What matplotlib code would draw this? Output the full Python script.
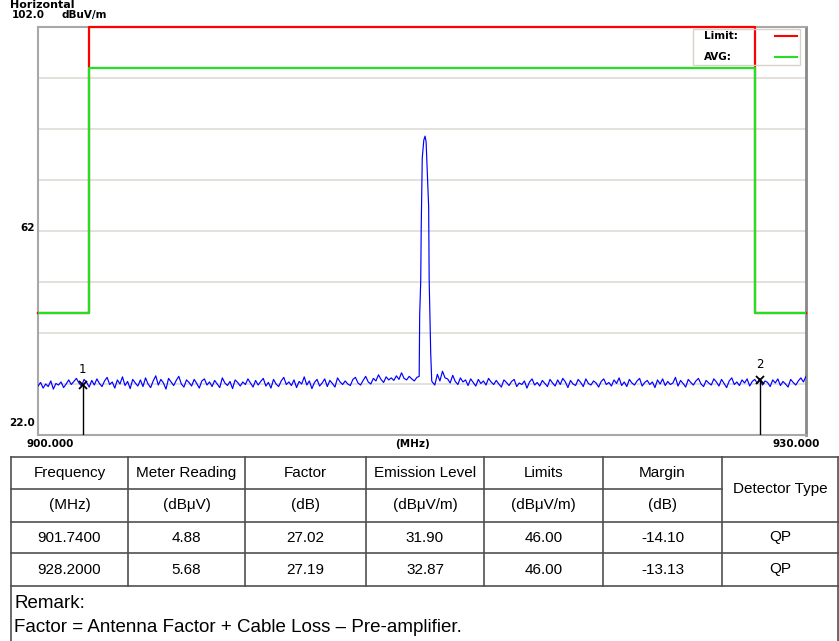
import numpy as np
import matplotlib
matplotlib.use("Agg")
import matplotlib.pyplot as plt

# ==========================================================
# Data
# ==========================================================

F_START = 900.0
F_STOP = 930.0

# noise floor of the sweep, 0.1 MHz steps (dBuV/m)
noise_db = [
    31.6, 32.3, 31.2, 32.0, 31.5, 32.6, 31.0, 32.1, 31.8, 32.4, 31.3, 32.0, 32.8, 31.9, 32.5, 33.1, 32.2, 31.6, 32.9, 32.3,
    31.4, 32.7, 31.8, 33.0, 32.1, 31.5, 32.6, 33.3, 31.9, 32.4, 31.2, 32.8, 32.0, 33.4, 31.7, 32.5, 31.1, 32.9, 32.2, 31.6,
    32.8, 31.5, 33.2, 32.0, 31.3, 32.6, 33.6, 31.8, 32.9, 32.2, 31.0, 33.1, 32.4, 31.7, 32.7, 33.5, 32.0, 31.4, 32.8, 32.3,
    31.6, 32.9, 32.1, 31.2, 32.6, 33.0, 31.8, 32.4, 31.5, 32.7, 32.0, 31.3, 33.2, 32.2, 31.7, 32.5, 31.1, 32.8, 32.3, 31.6,
    32.4, 31.9, 33.0, 32.2, 31.4, 32.7, 31.8, 32.5, 33.1, 31.6, 32.3, 31.2, 32.9, 32.0, 31.5, 32.6, 33.3, 31.9, 32.4, 31.7,
    32.8, 31.3, 32.5, 32.0, 33.4, 31.8, 32.6, 31.1, 32.3, 32.9, 31.6, 32.2, 33.0, 31.5, 32.7, 32.1, 31.4, 33.2, 32.4, 31.9,
    32.6, 32.0, 31.7, 32.9, 33.3, 32.2, 31.8, 32.7, 33.5, 32.4, 32.0, 33.1, 32.6, 33.8, 32.9, 32.3, 33.4, 32.8, 33.2, 32.7,
    33.6, 32.9, 34.2, 33.1, 32.8, 33.5, 33.0, 32.6, 33.3, 33.0, 33.0, 33.0, 33.0, 33.0, 32.4, 31.8, 33.9, 32.6, 34.5, 33.2,
    33.0, 32.2, 33.7, 32.5, 31.9, 33.2, 32.4, 32.8, 31.7, 33.0, 32.3, 31.6, 32.9, 32.1, 32.6, 31.8, 33.1, 32.4, 31.9, 32.7,
    32.0, 31.4, 32.8, 32.3, 31.7, 32.5, 32.9, 31.5, 32.2, 31.9, 32.6, 31.2, 32.4, 33.0, 31.8, 32.3, 31.6, 32.7, 32.1, 31.5,
    32.9, 32.2, 31.6, 32.8, 31.9, 33.1, 32.4, 31.3, 32.7, 32.0, 31.7, 32.9, 32.3, 31.5, 33.0, 32.1, 31.8, 32.6, 32.2, 31.4,
    32.5, 33.0, 31.9, 32.3, 31.6, 32.8, 32.1, 33.2, 31.7, 32.4, 31.5, 32.9, 32.2, 31.8, 32.6, 33.1, 31.6, 32.3, 32.7, 31.9,
    32.4, 31.3, 32.8, 32.0, 33.0, 31.7, 32.5, 31.9, 32.2, 33.3, 31.6, 32.7, 32.1, 31.4, 32.9, 32.3, 31.8, 32.6, 33.1, 32.0,
    31.5, 32.7, 32.2, 31.8, 33.0, 32.4, 31.6, 32.9, 32.1, 31.3, 32.6, 33.2, 31.9, 32.4, 31.7, 32.8, 32.2, 33.0, 31.6, 32.5,
    32.9, 32.1, 33.1, 31.8, 32.6, 32.3, 31.5, 32.8, 32.2, 33.0, 31.7, 32.5, 32.0, 31.4, 32.9, 32.3, 31.8, 32.6, 33.2, 32.4,
    33.5,
]

# carrier peak around 915 MHz
peak_freq = [914.89, 914.91, 914.95, 914.97, 915.01, 915.07, 915.12,
             915.16, 915.20, 915.26, 915.28, 915.31, 915.34, 915.38]
peak_db = [33.5, 45.7, 52.1, 62.8, 76.3, 79.8, 80.6,
           79.5, 74.2, 66.7, 52.4, 45.5, 38.1, 32.6]

# limit lines
limit_freq = [900.0, 902.0, 902.0, 928.0, 928.0, 930.0]
limit_db = [46.0, 46.0, 114.0, 114.0, 46.0, 46.0]
avg_db = [46.0, 46.0, 94.0, 94.0, 46.0, 46.0]

# markers
marker_no = ["1", "2"]
marker_freq = [901.74, 928.20]
marker_db = [31.90, 32.87]

# result table
header1 = ["Frequency", "Meter Reading", "Factor", "Emission Level", "Limits", "Margin"]
header2 = ["(MHz)", "(dBμV)", "(dB)", "(dBμV/m)", "(dBμV/m)", "(dB)"]
frequency = ["901.7400", "928.2000"]
reading = ["4.88", "5.68"]
factor = ["27.02", "27.19"]
emission = ["31.90", "32.87"]
limits = ["46.00", "46.00"]
margin = ["-14.10", "-13.13"]
detector = ["QP", "QP"]

# ==========================================================
# Figure
# ==========================================================

W, H = 839, 641
fig = plt.figure(figsize=(W / 100, H / 100), dpi=100)
fig.patch.set_facecolor("white")

Y_MIN, Y_MAX = 22.0, 102.0

ax = fig.add_axes([38 / W, 1 - 435 / H, 768 / W, 408 / H])
ax.set_xlim(F_START, F_STOP)
ax.set_ylim(Y_MIN, Y_MAX)
ax.set_xticks([])
ax.set_yticks([])

for name, sp in ax.spines.items():
    sp.set_color("#a8a8a8")
    sp.set_linewidth(1.5)
ax.spines["right"].set_color("#888888")
ax.spines["right"].set_linewidth(2.0)

for y in np.arange(32, 102, 10):
    ax.axhline(y, color="#e2ded9", lw=1.3, zorder=0)

# sweep trace
noise_freq = np.linspace(F_START, F_STOP, len(noise_db))
noise_arr = np.array(noise_db)
keep = (noise_freq < peak_freq[0]) | (noise_freq > peak_freq[-1])
trace_f = np.concatenate([noise_freq[keep], peak_freq])
trace_d = np.concatenate([noise_arr[keep], peak_db])
order = np.argsort(trace_f)
ax.plot(trace_f[order], trace_d[order], color="#0000ff", lw=0.85, zorder=3)

# limits
ax.plot(limit_freq, np.clip(limit_db, Y_MIN, Y_MAX), color="#ff0000",
        lw=1.6, zorder=4, clip_on=False)
ax.plot(limit_freq, avg_db, color="#22e022", lw=1.6, zorder=5)

# markers
for no, f, d in zip(marker_no, marker_freq, marker_db):
    ax.plot([f, f], [Y_MIN, d], color="black", lw=1.0, zorder=6)
    ax.plot(f, d, marker="x", color="black", ms=6, mew=1.3, zorder=7)
    ax.annotate(no, (f, d), xytext=(0, 6), textcoords="offset points",
                ha="center", va="bottom", fontsize=8.5)

# ==========================================================
# Overlay in pixel coordinates (labels, legend, table)
# ==========================================================

ov = fig.add_axes([0, 0, 1, 1], facecolor="none")
ov.set_xlim(0, W)
ov.set_ylim(H, 0)
ov.axis("off")

lab = dict(fontsize=7.5, fontweight="bold", family="DejaVu Sans")
ov.text(10, 0.5, "Horizontal", fontsize=8, fontweight="bold", va="top")
ov.text(45, 15, "102.0", ha="right", va="center", **lab)
ov.text(62, 15, "dBuV/m", ha="left", va="center", **lab)
ov.text(35, 228, "62", ha="right", va="center", **lab)
ov.text(35, 423, "22.0", ha="right", va="center", **lab)
ov.text(50, 444, "900.000", ha="center", va="center", **lab)
ov.text(413, 444, "(MHz)", ha="center", va="center", **lab)
ov.text(796, 444, "930.000", ha="center", va="center", **lab)

# legend box
ov.add_patch(plt.Rectangle((693, 29), 107, 36, fill=False,
                           edgecolor="#d9d2ca", lw=1.0))
ov.text(704, 36, "Limit:", ha="left", va="center", **lab)
ov.text(704, 57, "AVG:", ha="left", va="center", **lab)
ov.plot([775, 797], [36, 36], color="#ff0000", lw=1.5)
ov.plot([775, 797], [57, 57], color="#22e022", lw=1.5)

# table grid
col_x = [11, 128, 245, 366, 484, 603, 722, 838]
row_y = [457, 489, 522, 553, 586]
BOT = H + 2
lc = "#505050"
tlw = 1.2

for y in [row_y[0], row_y[2], row_y[3], row_y[4]]:
    ov.plot([col_x[0], col_x[-1]], [y, y], color=lc, lw=tlw)
ov.plot([col_x[0], col_x[-2]], [row_y[1], row_y[1]], color=lc, lw=tlw)
for x in col_x[1:-1]:
    ov.plot([x, x], [row_y[0], row_y[-1]], color=lc, lw=tlw)
ov.plot([col_x[0], col_x[0]], [row_y[0], BOT], color=lc, lw=tlw)
ov.plot([col_x[-1], col_x[-1]], [row_y[0], BOT], color=lc, lw=tlw)

cell = dict(fontsize=11, family="Liberation Sans", ha="center", va="center")
centers = [(col_x[i] + col_x[i + 1]) / 2 for i in range(len(col_x) - 1)]
row_c = [(row_y[i] + row_y[i + 1]) / 2 for i in range(len(row_y) - 1)]

for i, txt in enumerate(header1):
    ov.text(centers[i], row_c[0], txt, **cell)
for i, txt in enumerate(header2):
    ov.text(centers[i], row_c[1], txt, **cell)
ov.text(centers[6], (row_y[0] + row_y[2]) / 2, "Detector Type", **cell)

for r in range(len(frequency)):
    vals = [frequency[r], reading[r], factor[r], emission[r],
            limits[r], margin[r], detector[r]]
    for i, txt in enumerate(vals):
        ov.text(centers[i], row_c[2 + r], txt, **cell)

ov.text(14, 603, "Remark:", fontsize=13.5, family="Liberation Sans",
        ha="left", va="center")
ov.text(14, 628, "Factor = Antenna Factor + Cable Loss \u2013 Pre-amplifier.",
        fontsize=13.5, family="Liberation Sans", ha="left", va="center")

fig.savefig("out.png", dpi=100)
